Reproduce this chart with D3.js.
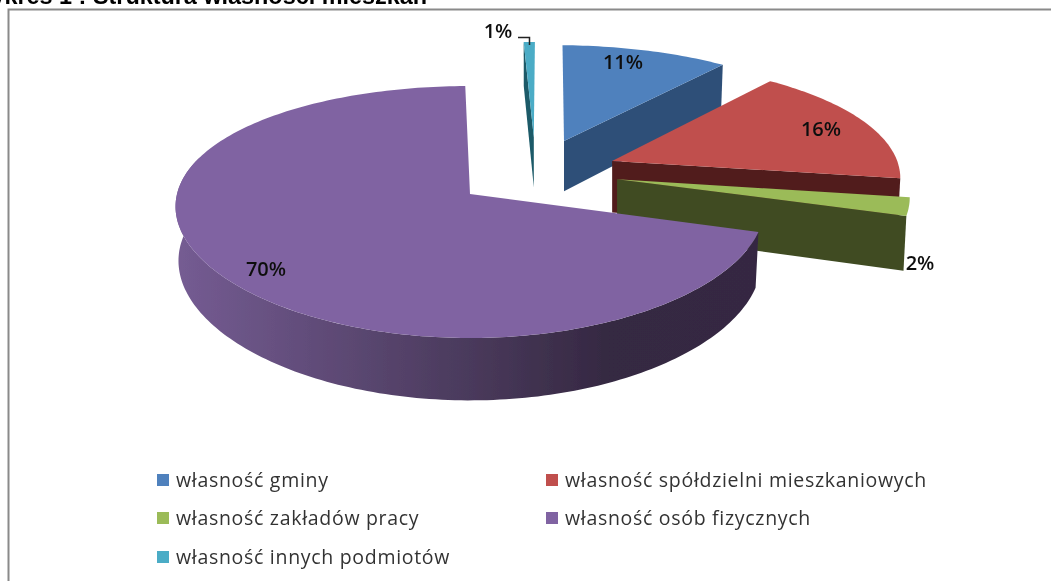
<!DOCTYPE html>
<html>
<head>
<meta charset="utf-8">
<script src="https://d3js.org/d3.v7.min.js"></script>
<style>
  html, body { margin: 0; padding: 0; background: #fff; overflow: hidden; }
  svg { display: block; }
</style>
</head>
<body>
<div id="chart"></div>
<script>
// chart data
const categories = ["własność gminy", "własność spółdzielni mieszkaniowych", "własność zakładów pracy", "własność osób fizycznych", "własność innych podmiotów"];
const values = [10.5, 16.45, 2.4, 69.95, 0.7];
const labels = ["11%", "16%", "2%", "70%", "1%"];
const titleText = "Wykres 1 : Struktura własności mieszkań";

const width = 1051, height = 581;

// colours per slice: top face, wall
const topColors = ["#4f81bd", "#c0504d", "#9bbb59", "#8064a2", "#4bacc6"];
const wallColors = ["#2f5078", "#511e1d", "#3f4c23", "#3a2b4c", "#1b5a68"];

// projection of the pie plane (perspective look from the front)
const cx = 470, cy = 194, rx = 293, ry = 123.4, kx = 0.1, ky = 1 / 7, depth = 53.5;
const firstAngle = 1.5 * Math.PI / 180;

// explode offsets in pie units, and which walls each slice shows
const explode = [[0.3355, 0.457], [0.4986, 0.278], [0.508, 0.122], [0, 0], [0.2285, 0.495]];
const walls = [["end"], ["end"], ["end"], ["rim"], ["start"]];
const drawOrder = [4, 0, 1, 2, 3];

function project(u, v, z) {
    const x = (u * rx) / (1 + kx * v), y = (v * ry) / (1 + ky * v);
    const d = z ? depth / (1 + ky * v) : 0;
    return [cx + x, cy - y + d];
}

// point on the rim of an exploded slice, the bottom ring is a bit narrower
function rimPoint(a, off, z) {
    const r = z ? 0.99 : 1;
    return project(off[0] + r * Math.sin(a), off[1] + Math.cos(a), z);
}

const svg = d3.select("#chart").append("svg")
    .attr("width", width)
    .attr("height", height);

const defs = svg.append("defs");
defs.append("filter").attr("id", "soft")
    .attr("x", 0).attr("y", 0).attr("width", 1).attr("height", 1)
    .append("feGaussianBlur").attr("stdDeviation", 0.55);

const rimGrad = defs.append("linearGradient").attr("id", "rimGrad")
    .attr("gradientUnits", "userSpaceOnUse")
    .attr("x1", 175).attr("x2", 760).attr("y1", 0).attr("y2", 0);
rimGrad.selectAll("stop")
    .data([[0, "#755c93"], [0.5, "#4a3a5c"], [0.73, "#362943"], [1, "#352842"]])
    .join("stop")
    .attr("offset", d => d[0])
    .attr("stop-color", d => d[1]);

const root = svg.append("g").attr("filter", "url(#soft)");

root.append("rect").attr("width", width).attr("height", height).attr("fill", "#fff");

// title, cut off by the top of the page
root.append("text")
    .attr("x", 427).attr("y", 4)
    .attr("text-anchor", "end")
    .attr("font-family", "'Liberation Sans', Arial, sans-serif")
    .attr("font-weight", "bold")
    .attr("font-size", 23.4)
    .attr("fill", "#000")
    .text(titleText);

// frame
root.append("path")
    .attr("d", "M8.5," + height + "V9.5H" + width)
    .attr("fill", "none")
    .attr("stroke", "#8a8a8a")
    .attr("stroke-width", 2);

// slices
const pie = d3.pie().sort(null).value(d => d)
    .startAngle(firstAngle).endAngle(firstAngle + 2 * Math.PI);
const arcs = pie(values);
const line = d3.line();

function arcPoints(a0, a1, off, z) {
    const n = Math.max(2, Math.ceil(Math.abs(a1 - a0) / 0.02));
    return d3.range(n + 1).map(i => rimPoint(a0 + (a1 - a0) * i / n, off, z));
}

drawOrder.forEach(i => {
    const a = arcs[i], off = explode[i];
    const g = root.append("g");
    const apexTop = project(off[0], off[1], false), apexBot = project(off[0], off[1], true);

    walls[i].forEach(w => {
        if (w === "rim") {
            // run past the left extreme so the silhouette stays smooth
            const rimEnd = 1.6 * Math.PI;
            const upper = arcPoints(a.startAngle, rimEnd, off, false);
            const lower = arcPoints(a.startAngle, rimEnd, off, true).reverse();
            g.append("path").attr("d", line(upper.concat(lower)) + "Z").attr("fill", "url(#rimGrad)");
        } else {
            const ang = w === "end" ? a.endAngle : a.startAngle;
            g.append("path")
                .attr("d", line([apexTop, rimPoint(ang, off, false), rimPoint(ang, off, true), apexBot]) + "Z")
                .attr("fill", wallColors[i]);
        }
    });

    g.append("path")
        .attr("d", line([apexTop].concat(arcPoints(a.startAngle, a.endAngle, off, false))) + "Z")
        .attr("fill", topColors[i]);
});

// data labels
const labelPos = [[623, 69], [821, 136], [920, 270], [266, 276], [498, 38]];
root.selectAll("text.lab")
    .data(labels)
    .join("text")
    .attr("class", "lab")
    .attr("x", (d, i) => labelPos[i][0])
    .attr("y", (d, i) => labelPos[i][1])
    .attr("text-anchor", "middle")
    .attr("font-family", "'Open Sans', sans-serif")
    .attr("font-weight", 600)
    .attr("font-size", 20)
    .attr("fill", "#111")
    .text(d => d);

// leader line of the 1% label
root.append("path")
    .attr("d", "M518,37.5H529.5V45")
    .attr("fill", "none")
    .attr("stroke", "#222")
    .attr("stroke-width", 1.5);

// legend
const legendPos = [[157, 481], [546, 481], [157, 519], [546, 519], [157, 558]];
const legend = root.selectAll("g.leg")
    .data(categories)
    .join("g")
    .attr("class", "leg")
    .attr("transform", (d, i) => `translate(${legendPos[i][0]},${legendPos[i][1]})`);
legend.append("rect")
    .attr("x", 0).attr("y", -7)
    .attr("width", 12).attr("height", 12)
    .attr("fill", (d, i) => topColors[i]);
legend.append("text")
    .attr("x", 19).attr("y", 6)
    .attr("font-family", "'Open Sans', sans-serif")
    .attr("font-size", 19.5)
    .attr("letter-spacing", 0.7)
    .attr("fill", "#333")
    .text(d => d);
</script>
</body>
</html>
